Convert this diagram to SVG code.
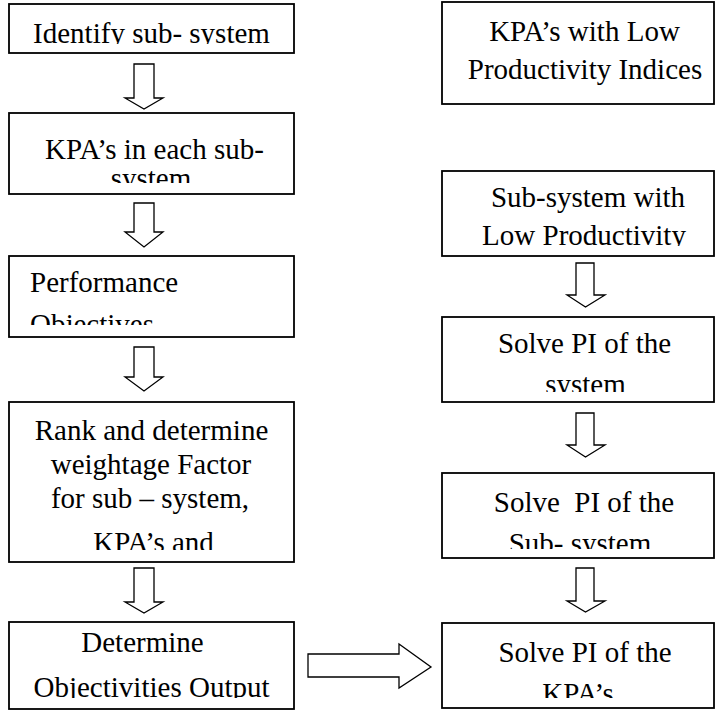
<svg xmlns="http://www.w3.org/2000/svg" width="718" height="711" viewBox="0 0 718 711" font-family="'Liberation Serif','Times New Roman',serif">
<style>
.box{fill:#fff;stroke:#000;stroke-width:1.8}
.arr{fill:#fff;stroke:#000;stroke-width:1.3;stroke-linejoin:miter}
text{font-family:"Liberation Serif","Times New Roman",serif;font-size:29px;fill:#000}
.c{text-anchor:middle}
</style>
<defs>
<clipPath id="c1"><rect x="9" y="4" width="285" height="40"/></clipPath>
<clipPath id="c2"><rect x="9" y="113" width="285" height="70"/></clipPath>
<clipPath id="c3"><rect x="9" y="256" width="285" height="69"/></clipPath>
<clipPath id="c4"><rect x="9" y="402" width="285" height="148"/></clipPath>
<clipPath id="c5"><rect x="9" y="622" width="285" height="76"/></clipPath>
<clipPath id="r2"><rect x="442" y="171" width="272" height="75"/></clipPath>
<clipPath id="r3"><rect x="442" y="317" width="272" height="75"/></clipPath>
<clipPath id="r4"><rect x="442" y="473" width="272" height="76"/></clipPath>
<clipPath id="r5"><rect x="442" y="623" width="272" height="75"/></clipPath>
</defs>
<rect width="718" height="711" fill="#fff"/>
<g id="identify">
<rect class="box" x="9" y="4" width="285" height="49"/>
<g clip-path="url(#c1)"><text class="c" x="151.5" y="43">Identify sub- system</text></g>
</g>
<g id="kpas-each">
<rect class="box" x="9" y="113" width="285" height="81"/>
<g clip-path="url(#c2)"><text class="c" x="154.5" y="159">KPA’s in each sub-</text><text class="c" x="151" y="188">system</text></g>
</g>
<g id="performance">
<rect class="box" x="9" y="256" width="285" height="81"/>
<g clip-path="url(#c3)"><text x="30" y="292">Performance</text><text x="30" y="334">Objectives</text></g>
</g>
<g id="rank">
<rect class="box" x="9" y="402" width="285" height="160"/>
<g clip-path="url(#c4)"><text class="c" x="151.5" y="440">Rank and determine</text><text class="c" x="151" y="474">weightage Factor</text><text class="c" x="150" y="508">for sub – system,</text><text class="c" x="153.5" y="552">KPA’s and</text></g>
</g>
<g id="determine">
<rect class="box" x="9" y="622" width="285" height="87"/>
<g clip-path="url(#c5)"><text class="c" x="142.5" y="652">Determine</text><text class="c" x="151.5" y="697">Objectivities Output</text></g>
</g>
<g id="kpas-low">
<rect class="box" x="442" y="2" width="272" height="102"/>
<text class="c" x="584.5" y="41">KPA’s with Low</text><text class="c" x="585" y="79">Productivity Indices</text>
</g>
<g id="subsystem-low">
<rect class="box" x="442" y="171" width="272" height="85"/>
<g clip-path="url(#r2)"><text class="c" x="588" y="207">Sub-system with</text><text class="c" x="584" y="245">Low Productivity</text></g>
</g>
<g id="solve-system">
<rect class="box" x="442" y="317" width="272" height="85"/>
<g clip-path="url(#r3)"><text class="c" x="584.5" y="353">Solve PI of the</text><text class="c" x="585.5" y="394">system</text></g>
</g>
<g id="solve-subsystem">
<rect class="box" x="442" y="473" width="272" height="85"/>
<g clip-path="url(#r4)"><text class="c" x="584" y="512" xml:space="preserve">Solve  PI of the</text><text class="c" x="580" y="553">Sub- system</text></g>
</g>
<g id="solve-kpas">
<rect class="box" x="442" y="623" width="272" height="85"/>
<g clip-path="url(#r5)"><text class="c" x="585" y="662">Solve PI of the</text><text class="c" x="578" y="703">KPA’s</text></g>
</g>
<g id="connectors">
<polygon class="arr" points="134,64 154,64 154,98 163,98 144,109 125,98 134,98"/>
<polygon class="arr" points="134,203 154,203 154,232 163,232 144,247 125,232 134,232"/>
<polygon class="arr" points="134,347 154,347 154,377 163,377 144,391 125,377 134,377"/>
<polygon class="arr" points="134,568 154,568 154,602 163,602 144,613 125,602 134,602"/>
<polygon class="arr" points="576,263 594,263 594,295 605,295 585.5,307 567,295 576,295"/>
<polygon class="arr" points="576,413 594,413 594,445 605,445 585.5,457 567,445 576,445"/>
<polygon class="arr" points="576,568 594,568 594,601 605,601 585.5,612 567,601 576,601"/>
<polygon class="arr" points="308,654 399,654 399,644 431,667 399,688 399,677 308,677"/>
</g>
</svg>
